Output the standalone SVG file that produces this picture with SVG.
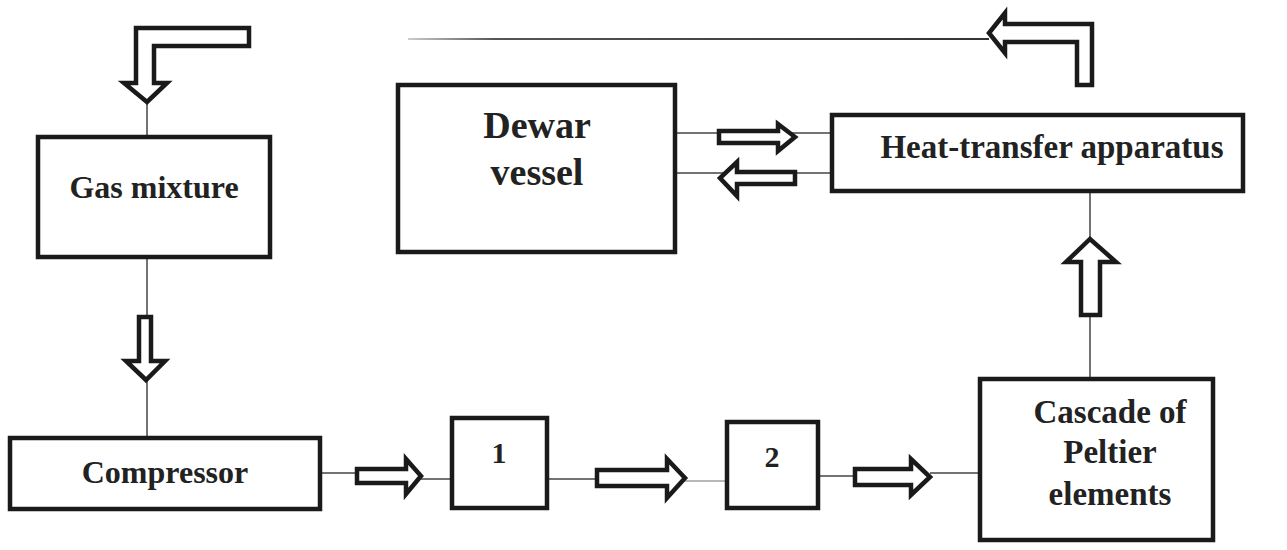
<svg xmlns="http://www.w3.org/2000/svg" width="1287" height="550" viewBox="0 0 1287 550">
<defs>
<style>
.box{fill:#fff;stroke:#1a1a1a;stroke-width:4.5}
.arr{fill:#fff;stroke:#1a1a1a;stroke-width:4.5;stroke-linejoin:miter}
.ln{stroke:#444;stroke-width:1.5;fill:none}
.t{font-family:"Liberation Serif","Times New Roman",serif;font-weight:bold;fill:#222;text-anchor:middle}
</style>
<linearGradient id="fade" x1="408" y1="0" x2="989" y2="0" gradientUnits="userSpaceOnUse">
<stop offset="0" stop-color="#ccc"/>
<stop offset="0.15" stop-color="#555"/>
<stop offset="1" stop-color="#333"/>
</linearGradient>
</defs>
<rect width="1287" height="550" fill="#fff"/>
<g id="connectors">
<line class="ln" x1="147" y1="100" x2="147" y2="137"/>
<line class="ln" x1="147" y1="257" x2="147" y2="438"/>
<line class="ln" x1="320" y1="473" x2="357" y2="473"/>
<line class="ln" x1="421" y1="479" x2="452" y2="479"/>
<line class="ln" x1="547" y1="479" x2="597" y2="479"/>
<line class="ln" x1="685" y1="481" x2="727" y2="481" stroke-opacity="0.5"/>
<line class="ln" x1="818" y1="476" x2="855" y2="476"/>
<line class="ln" x1="930" y1="473" x2="980" y2="473"/>
<line class="ln" x1="1090" y1="191" x2="1090" y2="379"/>
<line class="ln" x1="675" y1="133" x2="832" y2="133"/>
<line class="ln" x1="675" y1="173" x2="832" y2="173"/>
<line x1="408" y1="39" x2="989" y2="39" stroke="url(#fade)" stroke-width="1.8"/>
<polygon class="arr" points="249,28 136,28 136,83 124,83 147,102 167,83 154,83 154,46 249,46"/>
<polygon class="arr" points="139,317 151,317 151,361 165,361 146,380 126,361 139,361"/>
<polygon class="arr" points="357,469 406,469 406,459 421,476 406,494 406,483 357,483"/>
<polygon class="arr" points="597,470 667,470 667,459 685,478 667,498 667,486 597,486"/>
<polygon class="arr" points="855,469 911,469 911,459 930,477 911,495 911,485 855,485"/>
<polygon class="arr" points="1081,315 1081,262 1066,262 1090,239 1116,262 1100,262 1100,315"/>
<polygon class="arr" points="719,131 778,131 778,124 795,137 778,151 778,143 719,143"/>
<polygon class="arr" points="795,172 737,172 737,162 720,178 737,196 737,184 795,184"/>
<polygon class="arr" points="1092,85 1092,24 1005,24 1005,13 989,33 1005,53 1005,42 1077,42 1077,85"/>
</g>
<g id="gas-mixture">
<rect class="box" x="38" y="137" width="232" height="120"/>
<text class="t" x="154" y="198" font-size="32">Gas mixture</text>
</g>
<g id="compressor">
<rect class="box" x="10" y="438" width="310" height="71"/>
<text class="t" x="165" y="483" font-size="32">Compressor</text>
</g>
<g id="box-1">
<rect class="box" x="452" y="418" width="95" height="90"/>
<text class="t" x="499" y="463" font-size="30">1</text>
</g>
<g id="box-2">
<rect class="box" x="727" y="422" width="91" height="86"/>
<text class="t" x="772" y="467" font-size="30">2</text>
</g>
<g id="cascade">
<rect class="box" x="980" y="379" width="233" height="161"/>
<text class="t" x="1110" y="423" font-size="33">Cascade of</text>
<text class="t" x="1110" y="463" font-size="33">Peltier</text>
<text class="t" x="1110" y="505" font-size="33">elements</text>
</g>
<g id="heat-transfer-apparatus">
<rect class="box" x="832" y="115" width="411" height="76"/>
<text class="t" x="1052" y="158" font-size="33">Heat-transfer apparatus</text>
</g>
<g id="dewar-vessel">
<rect class="box" x="398" y="85" width="277" height="167"/>
<text class="t" x="537" y="138" font-size="38">Dewar</text>
<text class="t" x="537" y="185" font-size="38">vessel</text>
</g>
</svg>
